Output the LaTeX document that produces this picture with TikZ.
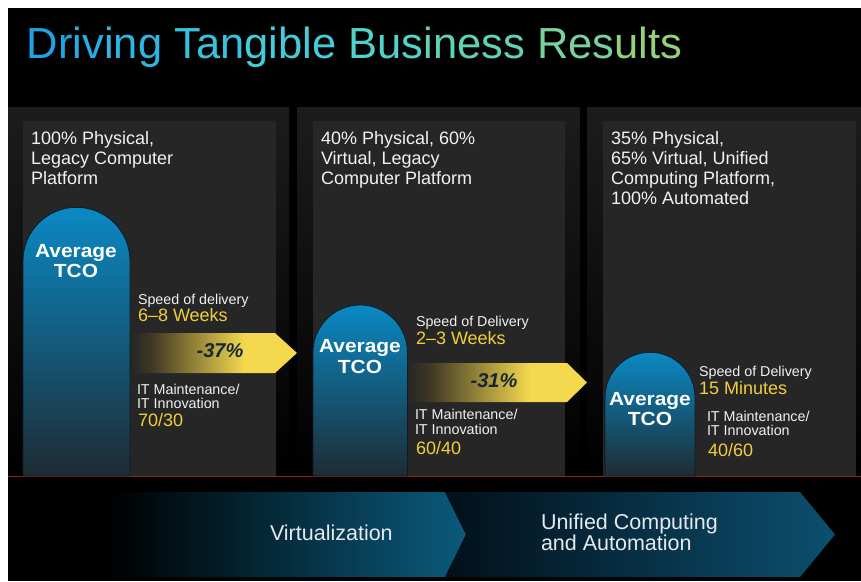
\documentclass[tikz,border=0pt]{standalone}
\usepackage{fontspec}
\setmainfont{Liberation Sans}
\newfontfamily\avgfont[FakeStretch=1.1]{Liberation Sans Bold}
\newfontfamily\pctfont{Liberation Sans Bold Italic}
\definecolor{outerTop}{HTML}{1C1C1C}
\definecolor{innerp}{HTML}{262626}
\definecolor{redline}{HTML}{9A1E1E}
\definecolor{txtwhite}{HTML}{F2F2F2}
\definecolor{yeltxt}{HTML}{F2CF3A}
\definecolor{yel}{HTML}{F4D84E}
\definecolor{ydark}{HTML}{3E3724}
\definecolor{pctcol}{HTML}{14272F}
\definecolor{barTop}{HTML}{0A89C4}
\definecolor{barMid}{HTML}{0E5E84}
\definecolor{barBot}{HTML}{1E2B33}
\definecolor{barEdge}{HTML}{0B1C26}
\definecolor{chevA}{HTML}{0B5A7C}
\definecolor{chevB0}{HTML}{02101A}
\definecolor{chevB}{HTML}{0C4F6F}
\definecolor{bandtxt}{HTML}{E6EAEE}
\definecolor{tA}{HTML}{1FA2E6}
\definecolor{tM}{HTML}{45D2D8}
\definecolor{tB}{HTML}{95D07A}
% TikZ maps 25bp..75bp of a shading onto the path's bounding box
\pgfdeclarehorizontalshading{yarrow}{100bp}{color(0bp)=(innerp); color(25bp)=(innerp); color(31bp)=(ydark); color(59bp)=(yel); color(100bp)=(yel)}
\pgfdeclarehorizontalshading{chevone}{100bp}{color(0bp)=(black); color(31bp)=(black); color(75bp)=(chevA); color(100bp)=(chevA)}
\pgfdeclarehorizontalshading{chevtwo}{100bp}{color(0bp)=(chevB0); color(25bp)=(chevB0); color(75bp)=(chevB); color(100bp)=(chevB)}
\begin{document}
\begin{tikzpicture}[x=1pt,y=-1pt,
  every node/.style={inner sep=0pt, outer sep=0pt},
  head/.style={anchor=base west, text=txtwhite, font=\fontsize{18}{20}\selectfont},
  small/.style={anchor=base west, text=txtwhite, font=\fontsize{14.3}{16}\selectfont},
  val/.style={anchor=base west, text=yeltxt, font=\fontsize{18}{20}\selectfont},
  avg/.style={anchor=base, text=white, font=\avgfont\fontsize{19}{20}\selectfont},
  pct/.style={anchor=base, text=pctcol, font=\pctfont\fontsize{20}{22}\selectfont},
  band/.style={anchor=base west, text=bandtxt, font=\fontsize{21.5}{22}\selectfont},
  outerpanel/.style={top color=outerTop, bottom color=black},
  bar/.style={top color=barTop, middle color=barMid, bottom color=barBot, draw=barEdge, line width=0.8pt},
  yarrowshape/.style={shading=yarrow}]
\useasboundingbox (0,0) rectangle (861,581);
\fill[white] (0,0) rectangle (861,581);
\fill[black] (8,8) rectangle (861,581);
% title
\node[anchor=base west, font=\fontsize{43.5}{48}\selectfont] (title) at (27,58)
 {\textcolor{tA}{Dr}\textcolor{tA!80!tM}{iv}\textcolor{tA!60!tM}{ing} \textcolor{tA!35!tM}{Tan}\textcolor{tA!10!tM}{gible} \textcolor{tM!85!tB}{Bus}\textcolor{tM!65!tB}{iness} \textcolor{tM!35!tB}{Res}\textcolor{tB}{ults}};
% panels
\shade[outerpanel] (8,107) rectangle (289,476);
\shade[outerpanel] (297,107) rectangle (580,476);
\shade[outerpanel] (587,107) rectangle (861,476);
\fill[innerp] (23,121) rectangle (276,476);
\fill[innerp] (313,121) rectangle (565,476);
\fill[innerp] (603,121) rectangle (856,476);
\draw[redline, line width=1.5pt] (8,476.5) -- (861,476.5);
% bars
\shade[bar] (23,476) -- (23,260.8) .. controls (23,231.3) and (47.0,207.3) .. (76.5,207.3)
  .. controls (106.0,207.3) and (130,231.3) .. (130,260.8) -- (130,476) -- cycle;
\shade[bar] (313,476) -- (313,352.3) .. controls (313,326.2) and (334.1,305) .. (360.2,305)
  .. controls (386.3,305) and (407.4,326.2) .. (407.4,352.3) -- (407.4,476) -- cycle;
\shade[bar] (605,476) -- (605,397.3) .. controls (605,372.5) and (625.1,352.3) .. (650,352.3)
  .. controls (674.9,352.3) and (695,372.5) .. (695,397.3) -- (695,476) -- cycle;
% yellow arrows
\shade[yarrowshape] (131,333) -- (275,333) -- (297,353) -- (275,373) -- (131,373) -- cycle;
\shade[yarrowshape] (408,363) -- (567,363) -- (587,382.5) -- (567,402) -- (408,402) -- cycle;
% bottom chevrons
\shade[shading=chevone] (60,492) -- (445,492) -- (466,534.5) -- (445,577) -- (60,577) -- cycle;
\shade[shading=chevtwo] (445,492) -- (800,492) -- (835,534.5) -- (800,577) -- (445,577) -- (466,534.5) -- cycle;
% panel 1 texts
\node[head] (h1a) at (31,144) {100\% Physical,};
\node[head] (h1b) at (31,164) {Legacy Computer};
\node[head] (h1c) at (31,184) {Platform};
\node[avg] (a1a) at (76,257) {Average};
\node[avg] (a1b) at (76,277) {TCO};
\node[small] (s1) at (138,304) {Speed of delivery};
\node[val] (v1) at (138,321) {6–8 Weeks};
\node[pct] (p1) at (220,357) {-37\%};
\node[small] (m1) at (137,394) {IT Maintenance/};
\node[small] (i1) at (137,408.5) {IT Innovation};
\node[val] (r1) at (138,426) {70/30};
% panel 2 texts
\node[head] (h2a) at (321,144) {40\% Physical, 60\%};
\node[head] (h2b) at (321,164) {Virtual, Legacy};
\node[head] (h2c) at (321,184) {Computer Platform};
\node[avg] (a2a) at (360,352) {Average};
\node[avg] (a2b) at (360,373) {TCO};
\node[small] (s2) at (416,326) {Speed of Delivery};
\node[val] (v2) at (416,344) {2–3 Weeks};
\node[pct] (p2) at (494,387) {-31\%};
\node[small] (m2) at (415,419) {IT Maintenance/};
\node[small] (i2) at (415,434) {IT Innovation};
\node[val] (r2) at (416,454) {60/40};
% panel 3 texts
\node[head] (h3a) at (611,144) {35\% Physical,};
\node[head] (h3b) at (611,164) {65\% Virtual, Unified};
\node[head] (h3c) at (611,184) {Computing Platform,};
\node[head] (h3d) at (611,204) {100\% Automated};
\node[avg] (a3a) at (650,405) {Average};
\node[avg] (a3b) at (650,425) {TCO};
\node[small] (s3) at (699,376) {Speed of Delivery};
\node[val] (v3) at (699,394) {15 Minutes};
\node[small] (m3) at (707,421) {IT Maintenance/};
\node[small] (i3) at (707,435) {IT Innovation};
\node[val] (r3) at (708,456) {40/60};
% band texts
\node[band] (b1) at (270,540) {Virtualization};
\node[band] (b2a) at (541,529) {Unified Computing};
\node[band] (b2b) at (541,550) {and Automation};
\end{tikzpicture}
\end{document}
